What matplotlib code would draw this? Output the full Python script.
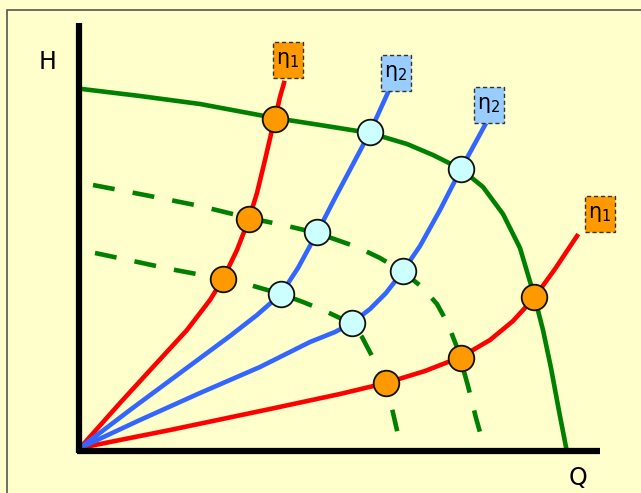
import matplotlib
matplotlib.use("Agg")
import matplotlib.pyplot as plt
from matplotlib.patches import Rectangle

plt.rcParams['mathtext.default'] = 'regular'

# --- données (Q, H) ---
# courbe de la pompe (vitesse nominale)
pump_Q = [2, 60, 120, 195, 240, 290, 327, 353, 381, 403, 423, 440, 454, 463, 471, 479, 486]
pump_H = [359, 352, 344, 330, 323, 315, 304, 293, 279, 261, 234, 200, 153, 118, 80, 37, 1]

# vitesses réduites (tirets)
mid_Q = [13, 70, 120, 169, 203, 237, 277, 300, 323, 342, 357, 368, 378, 388, 396, 405]
mid_H = [263, 252, 242, 230, 223, 215, 201, 190, 176, 161, 144, 124, 98, 62, 30, -2]

low_Q = [15, 53, 90, 143, 170, 201, 223, 245, 262, 272, 282, 293, 300, 306, 311, 316, 322]
low_H = [195, 187, 179, 169, 163, 154, 146, 137, 129, 123, 111, 90, 76, 62, 44, 22, -4]

# iso-rendements
red1_Q = [0, 40, 73, 107, 130, 143, 157, 169, 177, 185, 192, 195, 200, 204]
red1_H = [0, 45, 81, 118, 148, 169, 198, 229, 255, 288, 318, 329, 351, 365]

blue1_Q = [0, 50, 100, 150, 177, 201, 218, 237, 255, 272, 290, 310]
blue1_H = [0, 38, 75, 112, 133, 154, 180, 215, 250, 282, 316, 360]

blue2_Q = [0, 60, 120, 180, 230, 255, 272, 290, 306, 323, 340, 360, 381, 405]
blue2_H = [0, 28, 55, 81, 106, 116, 125, 139, 155, 177, 202, 238, 279, 323]

red2_Q = [0, 90, 190, 260, 306, 345, 381, 410, 433, 454, 475, 497]
red2_H = [0, 18, 39, 54, 65, 77, 91, 108, 127, 150, 179, 212]

# points de fonctionnement
orange_Q = [195, 169, 143, 306, 381, 454]
orange_H = [329, 229, 169, 65, 90, 151]
cyan_Q = [290, 237, 201, 323, 272, 381]
cyan_H = [316, 216, 154, 177, 125, 279]

# étiquettes
labels = [r"$\eta_1$", r"$\eta_2$", r"$\eta_2$", r"$\eta_1$"]
label_Q = [208, 316, 409, 520]
label_H = [388, 375, 343, 234]
label_col = ["#FF9900", "#99CCFF", "#99CCFF", "#FF9900"]

BG = "#FFFFCC"
GREEN = "#008000"
RED = "#FF0000"
BLUE = "#3366FF"
LW = 3.3

fig = plt.figure(figsize=(6.41, 4.93), dpi=100, facecolor=BG)
ax = fig.add_axes([0, 0, 1, 1])
ax.set_facecolor(BG)
ax.set_xlim(-80, 561)
ax.set_ylim(-45, 448)
ax.axis("off")

# cadre
fig.patches.append(Rectangle((7 / 641, -0.1), 1.2, 1 - 10 / 493 + 0.1,
                             transform=fig.transFigure, fill=False,
                             edgecolor="#555555", linewidth=1.2))

# courbes
ax.plot(pump_Q, pump_H, color=GREEN, lw=LW, zorder=2)
ax.plot(mid_Q, mid_H, color=GREEN, lw=LW, ls=(0, (4.8, 4.0)), zorder=2)
ax.plot(low_Q, low_H, color=GREEN, lw=LW, ls=(0, (4.8, 4.0)), zorder=2)
ax.plot(red1_Q, red1_H, color=RED, lw=LW, zorder=3)
ax.plot(red2_Q, red2_H, color=RED, lw=LW, zorder=3)
ax.plot(blue1_Q, blue1_H, color=BLUE, lw=LW, zorder=3)
ax.plot(blue2_Q, blue2_H, color=BLUE, lw=LW, zorder=3)

ax.scatter(orange_Q, orange_H, s=340, facecolor="#FF9900", edgecolor="#111100",
           linewidth=1.3, zorder=5)
ax.scatter(cyan_Q, cyan_H, s=340, facecolor="#CCFFFF", edgecolor="#111111",
           linewidth=1.3, zorder=5)

# axes
ax.plot([-1, -1], [-5, 425], color="black", lw=4.5, solid_capstyle="butt", zorder=4)
ax.plot([-3, 520], [-3, -3], color="black", lw=4.5, solid_capstyle="butt", zorder=4)
ax.text(-32, 386, "H", fontsize=17, ha="center", va="center")
ax.text(498, -30, "Q", fontsize=17, ha="center", va="center")

for t, q, h, c in zip(labels, label_Q, label_H, label_col):
    ax.add_patch(Rectangle((q - 15, h - 18), 30, 36, facecolor=c, edgecolor="#333333",
                           linestyle=(0, (3, 2)), linewidth=1.0, zorder=6))
    ax.text(q, h, t, fontsize=15, ha="center", va="center", zorder=7)

fig.savefig("out.png", dpi=100, facecolor=BG)
